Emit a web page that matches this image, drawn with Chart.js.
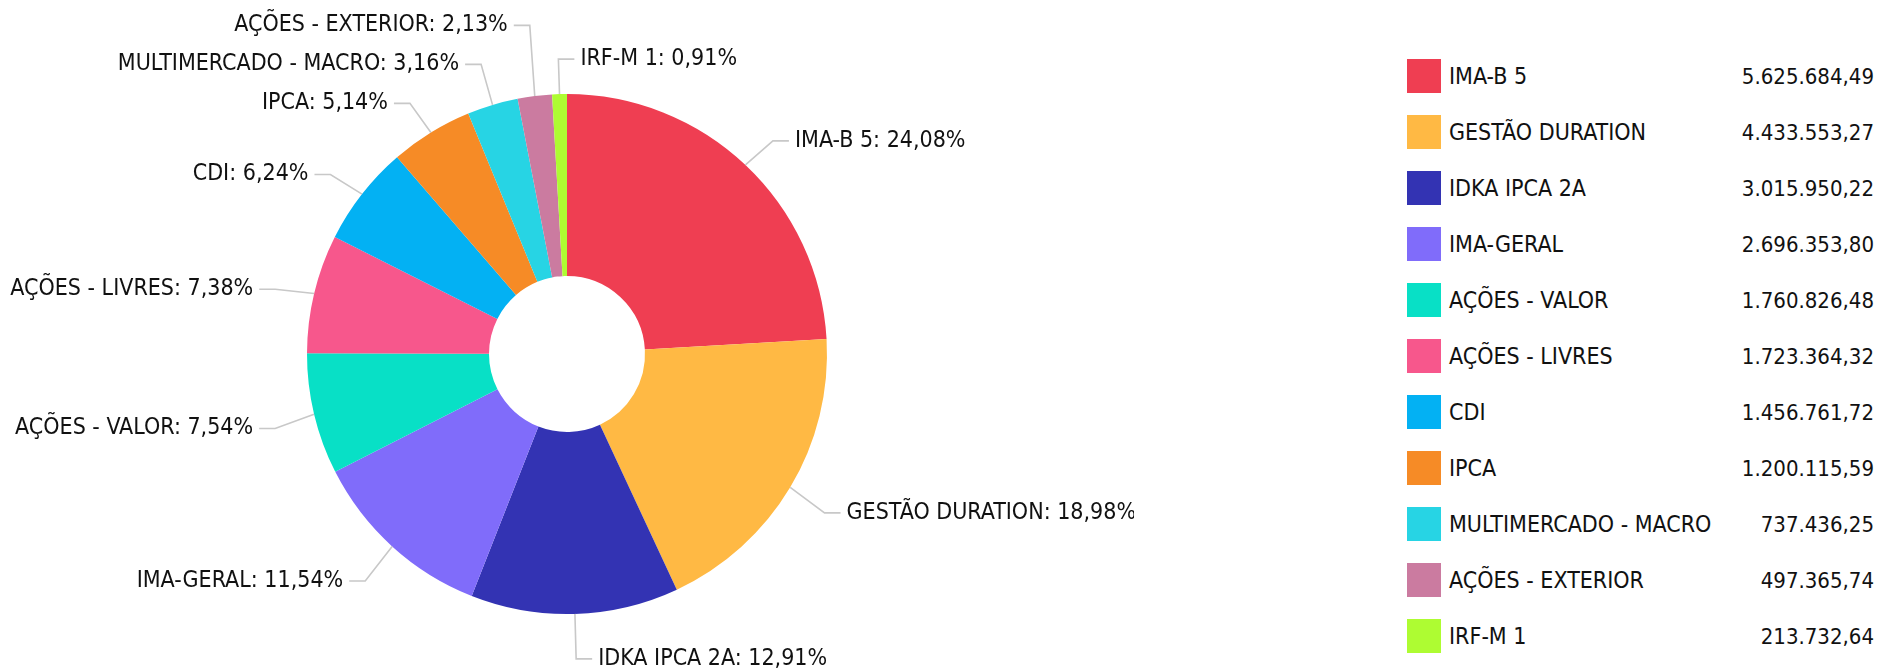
<!DOCTYPE html>
<html lang="pt-BR">
<head>
    <meta charset="UTF-8">
    <title>Distribuição da carteira</title>
    <script src="https://cdn.jsdelivr.net/npm/chart.js"></script>
    <style>
        body {
            margin: 0;
            background: #fff;
            font-family: "DejaVu Sans Condensed", "DejaVu Sans", sans-serif;
        }
        .wrap {
            position: relative;
            width: 1881px;
            height: 671px;
            overflow: hidden;
        }
        .pie-box {
            position: absolute;
            left: 0;
            top: 0;
            width: 1134px;
            height: 671px;
        }
        .legend {
            position: absolute;
            left: 1407px;
            top: 48px;
            width: 467px;
        }
        .legend-row {
            display: flex;
            align-items: center;
            height: 56px;
            font-size: 23px;
            color: #111;
        }
        .legend-box {
            width: 34px;
            height: 34px;
            margin-right: 8px;
            flex: none;
        }
        .legend-name { flex: 1; }
        .legend-value { text-align: right; font-size: 22px; }
    </style>
</head>
<body>
    <div class="wrap">
        <div class="pie-box"><canvas id="pieChart"></canvas></div>
        <div class="legend" id="legend"></div>
    </div>

    <script>
        const names = ["IMA-B 5", "GESTÃO DURATION", "IDKA IPCA 2A", "IMA-GERAL", "AÇÕES - VALOR",
            "AÇÕES - LIVRES", "CDI", "IPCA", "MULTIMERCADO - MACRO", "AÇÕES - EXTERIOR", "IRF-M 1"];
        const values = [5625684.49, 4433553.27, 3015950.22, 2696353.80, 1760826.48,
            1723364.32, 1456761.72, 1200115.59, 737436.25, 497365.74, 213732.64];
        const percents = ["24,08", "18,98", "12,91", "11,54", "7,54", "7,38", "6,24", "5,14", "3,16", "2,13", "0,91"];
        const colors = ["#ef3e52", "#ffb944", "#3333b3", "#806cfa", "#08e0c6",
            "#f7578c", "#03b1f3", "#f68b26", "#27d4e4", "#cb7ba0", "#aefc32"];

        const LINE1 = 40;   // radial part of the leader line
        const LINE2 = 16;   // horizontal part
        const TEXT_GAP = 6;
        const MIN_SPACE = 39;
        const DROP = 5;     // labels sit a bit lower than the pure radial point
        const labelFont = '23px "DejaVu Sans Condensed", "DejaVu Sans", sans-serif';

        function formatBR(v) {
            const parts = v.toFixed(2).split(".");
            const intPart = parts[0].replace(/\B(?=(\d{3})+(?!\d))/g, ".");
            return intPart + "," + parts[1];
        }

        // legend on the right
        let legendHTML = "";
        names.forEach((n, i) => {
            legendHTML += `
                <div class="legend-row">
                    <div class="legend-box" style="background:${colors[i]}"></div>
                    <div class="legend-name">${n}</div>
                    <div class="legend-value">${formatBR(values[i])}</div>
                </div>`;
        });
        document.getElementById("legend").innerHTML = legendHTML;

        // labels outside the pie with leader lines
        const outLabels = {
            id: "outLabels",
            afterDatasetsDraw(chart) {
                const ctx = chart.ctx;
                const arcs = chart.getDatasetMeta(0).data;
                const items = arcs.map((arc, i) => {
                    const p = arc.getProps(["x", "y", "startAngle", "endAngle", "outerRadius"], true);
                    const mid = (p.startAngle + p.endAngle) / 2;
                    const c = Math.cos(mid), s = Math.sin(mid);
                    return {
                        i: i,
                        ex: p.x + c * p.outerRadius,
                        ey: p.y + s * p.outerRadius,
                        kx: p.x + c * (p.outerRadius + LINE1),
                        ky: p.y + s * (p.outerRadius + LINE1) + DROP,
                        right: c > -0.05
                    };
                });

                [true, false].forEach(side => {
                    const list = items.filter(it => it.right === side).sort((a, b) => b.ky - a.ky);
                    for (let k = 1; k < list.length; k++) {
                        if (list[k].ky > list[k - 1].ky - MIN_SPACE) {
                            list[k].ky = list[k - 1].ky - MIN_SPACE;
                        }
                    }
                });

                ctx.save();
                ctx.strokeStyle = "#c8c8c8";
                ctx.lineWidth = 1.6;
                ctx.font = labelFont;
                ctx.fillStyle = "#111";
                ctx.textBaseline = "middle";
                items.forEach(it => {
                    const dir = it.right ? 1 : -1;
                    ctx.beginPath();
                    ctx.moveTo(it.ex, it.ey);
                    ctx.lineTo(it.kx, it.ky);
                    ctx.lineTo(it.kx + dir * LINE2, it.ky);
                    ctx.stroke();
                    ctx.textAlign = it.right ? "left" : "right";
                    ctx.fillText(names[it.i] + ": " + percents[it.i] + "%", it.kx + dir * (LINE2 + TEXT_GAP), it.ky);
                });
                ctx.restore();
            }
        };

        const ctx = document.getElementById("pieChart").getContext("2d");
        new Chart(ctx, {
            type: "doughnut",
            data: {
                labels: names,
                datasets: [{
                    data: values,
                    backgroundColor: colors,
                    borderWidth: 0,
                    hoverOffset: 0,
                    offset: 0
                }]
            },
            options: {
                responsive: true,
                maintainAspectRatio: false,
                animation: false,
                cutout: "30%",
                layout: { padding: { top: 94, bottom: 57, left: 0, right: 0 } },
                plugins: {
                    legend: { display: false },
                    tooltip: { enabled: false }
                }
            },
            plugins: [outLabels]
        });
    </script>
</body>
</html>
